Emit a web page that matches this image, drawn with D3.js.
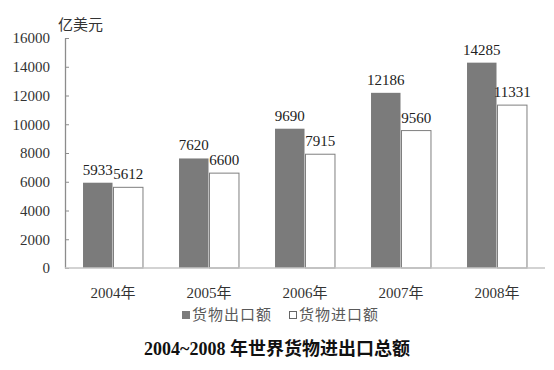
<!DOCTYPE html>
<meta charset="utf-8">
<script src="https://d3js.org/d3.v7.min.js"></script>
<style>
  body { margin: 0; background: #fff; }
</style>
<div id="chart"></div>
<script>

// data
var years = ["2004年", "2005年", "2006年", "2007年", "2008年"];
var series = ["货物出口额", "货物进口额"];
var exportsVal = [5933, 7620, 9690, 12186, 14285];
var importsVal = [5612, 6600, 7915, 9560, 11331];
var yTicks = [0, 2000, 4000, 6000, 8000, 10000, 12000, 14000, 16000];

var width = 554, height = 370;
var plot = {left: 65, right: 545, top: 38, bottom: 268};
var serif = "'Liberation Serif', 'Times New Roman', 'Noto Sans CJK SC', serif";
var cjk = "'Noto Sans CJK SC', sans-serif";

var svg = d3.select("#chart")
  .append("svg")
    .attr("width", width)
    .attr("height", height);

// scales
var x0 = d3.scaleBand()
  .domain(years)
  .range([plot.left, plot.right])
  .paddingInner(0.365)
  .paddingOuter(0.1825);

var x1 = d3.scaleBand()
  .domain(series)
  .range([0, x0.bandwidth()]);

var y = d3.scaleLinear()
  .domain([0, 16000])
  .range([plot.bottom, plot.top]);

var fill = d3.scaleOrdinal().domain(series).range(["#7b7b7b", "#ffffff"]);

// y axis, ticks pointing inward
var yAxis = svg.append("g")
  .attr("transform", "translate(" + plot.left + ",0)")
  .call(d3.axisLeft(y).tickValues(yTicks).tickFormat(d3.format("d"))
    .tickSizeInner(-4).tickSizeOuter(0).tickPadding(15));
yAxis.select(".domain").attr("stroke", "#8c8c8c").attr("stroke-width", 1.3);
yAxis.selectAll(".tick line").attr("stroke", "#8c8c8c");
yAxis.selectAll(".tick text")
  .style("font-family", serif)
  .style("font-size", "15px")
  .attr("fill", "#333");

// bars
var rows = years.map(function(yr, i) {
  return {year: yr, values: [
    {key: series[0], value: exportsVal[i]},
    {key: series[1], value: importsVal[i]}
  ]};
});

var group = svg.append("g").selectAll("g")
  .data(rows)
  .join("g")
    .attr("transform", function(d) { return "translate(" + x0(d.year) + ",0)"; });

group.selectAll("rect")
  .data(function(d) { return d.values; })
  .join("rect")
    .attr("x", function(d) { return x1(d.key) + 0.5; })
    .attr("y", function(d) { return y(d.value); })
    .attr("width", x1.bandwidth() - 1)
    .attr("height", function(d) { return y(0) - y(d.value); })
    .attr("fill", function(d) { return fill(d.key); })
    .attr("stroke", function(d) { return d.key == series[1] ? "#7f7f7f" : "none"; })
    .attr("stroke-width", 1);

group.selectAll("text.val")
  .data(function(d) { return d.values; })
  .join("text")
    .attr("class", "val")
    .attr("x", function(d) { return x1(d.key) + x1.bandwidth() / 2; })
    .attr("y", function(d) { return y(d.value) - 8; })
    .attr("text-anchor", "middle")
    .style("font-family", serif)
    .style("font-size", "15px")
    .attr("fill", "#222")
    .text(function(d) { return d.value; });

// baseline
svg.append("line")
  .attr("x1", plot.left).attr("x2", plot.right)
  .attr("y1", y(0)).attr("y2", y(0))
  .attr("stroke", "#c4c4c4")
  .attr("stroke-width", 1.6);

// category labels
svg.append("g").selectAll("text")
  .data(years)
  .join("text")
    .attr("x", function(d) { return x0(d) + x0.bandwidth() / 2; })
    .attr("y", 298)
    .attr("text-anchor", "middle")
    .style("font-family", serif)
    .style("font-size", "15px")
    .attr("fill", "#333")
    .text(function(d) { return d; });

// unit label
svg.append("text")
  .attr("x", 58)
  .attr("y", 30)
  .style("font-family", cjk)
  .style("font-size", "15px")
  .attr("fill", "#333")
  .text("亿美元");

// legend
var legendX = [182, 289];
var legend = svg.append("g").selectAll("g")
  .data(series)
  .join("g")
    .attr("transform", function(d, i) { return "translate(" + legendX[i] + ",315)"; });

legend.append("rect")
  .attr("x", function(d, i) { return i == 0 ? 0 : 0.5; })
  .attr("y", function(d, i) { return i == 0 ? -4 : -3.5; })
  .attr("width", function(d, i) { return i == 0 ? 8 : 7; })
  .attr("height", function(d, i) { return i == 0 ? 8 : 7; })
  .attr("fill", function(d) { return fill(d); })
  .attr("stroke", function(d, i) { return i == 0 ? "none" : "#666"; });

legend.append("text")
  .attr("x", 10)
  .attr("y", 0)
  .attr("dy", "0.35em")
  .style("font-family", cjk)
  .style("font-size", "15px")
  .attr("letter-spacing", 1)
  .attr("fill", "#595959")
  .text(function(d) { return d; });

// title
svg.append("text")
  .attr("x", 277)
  .attr("y", 355)
  .attr("text-anchor", "middle")
  .style("font-family", serif)
  .style("font-size", "18px")
  .style("font-weight", "bold")
  .attr("fill", "#111")
  .text("2004~2008 年世界货物进出口总额");

</script>
